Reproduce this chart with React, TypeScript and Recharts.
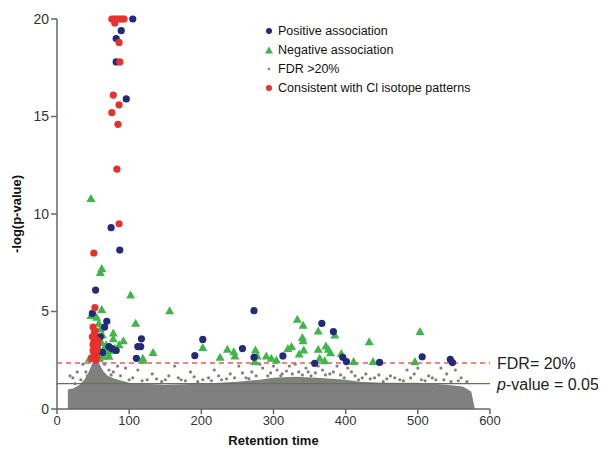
import React from 'react';
import {
  Area,
  ComposedChart,
  ReferenceLine,
  Scatter,
  XAxis,
  YAxis,
} from 'recharts';

// upper edge of the dense grey cloud (FDR > 20%)
const cloudEdge = [
  { x: 15, top: 0 },
  { x: 15, top: 1.0 },
  { x: 22, top: 1.05 },
  { x: 30, top: 1.2 },
  { x: 38, top: 1.5 },
  { x: 44, top: 1.9 },
  { x: 49, top: 2.35 },
  { x: 54, top: 2.5 },
  { x: 59, top: 2.3 },
  { x: 64, top: 1.95 },
  { x: 70, top: 1.7 },
  { x: 80, top: 1.55 },
  { x: 90, top: 1.45 },
  { x: 100, top: 1.35 },
  { x: 120, top: 1.3 },
  { x: 150, top: 1.25 },
  { x: 200, top: 1.3 },
  { x: 250, top: 1.4 },
  { x: 280, top: 1.5 },
  { x: 300, top: 1.6 },
  { x: 330, top: 1.65 },
  { x: 360, top: 1.6 },
  { x: 400, top: 1.5 },
  { x: 420, top: 1.4 },
  { x: 450, top: 1.35 },
  { x: 500, top: 1.35 },
  { x: 540, top: 1.25 },
  { x: 562, top: 1.15 },
  { x: 574, top: 0.9 },
  { x: 579, top: 0 },
];

// scattered grey points above the dense cloud
const fdrPoints = [
  [18, 1.7], [22, 1.6], [28, 1.9], [33, 1.5], [36, 2.3], [42, 1.7], [45, 2.4],
  [66, 2.3], [72, 2.0], [78, 1.9], [88, 1.7], [95, 2.1], [105, 1.6], [112, 2.0],
  [125, 1.5], [132, 1.8], [145, 1.4], [155, 1.7], [163, 2.2], [172, 1.5],
  [185, 1.9], [195, 1.4], [210, 1.6], [218, 2.0], [228, 1.5], [240, 1.8],
  [252, 2.2], [262, 1.6], [270, 1.9], [285, 2.1], [292, 1.7], [305, 2.0],
  [312, 1.8], [322, 2.2], [335, 1.9], [345, 2.1], [352, 1.7], [368, 2.0],
  [378, 1.8], [388, 2.2], [398, 1.6], [408, 1.9], [418, 1.5], [428, 1.8],
  [440, 1.6], [452, 1.4], [462, 1.7], [475, 1.5], [485, 2.0], [495, 1.8],
  [505, 1.5], [515, 1.7], [525, 1.5], [532, 2.1], [540, 1.8], [552, 2.0],
  [560, 1.6], [568, 1.4],
  [25, 1.3], [40, 1.9], [62, 2.5], [75, 1.75], [84, 2.2], [100, 1.5], [118, 1.45],
  [138, 1.55], [150, 1.5], [168, 1.6], [178, 1.45], [190, 1.65], [202, 1.5],
  [214, 1.45], [224, 1.7], [235, 1.55], [246, 1.6], [257, 1.85], [266, 1.55],
  [276, 1.7], [281, 2.3], [296, 1.85], [300, 2.2], [310, 1.7], [318, 1.95],
  [326, 1.8], [330, 2.3], [340, 1.75], [348, 1.9], [358, 1.85], [362, 2.2],
  [372, 1.75], [383, 1.9], [393, 1.75], [403, 2.1], [413, 1.7], [423, 1.6],
  [434, 1.55], [446, 1.75], [457, 1.55], [468, 1.6], [480, 1.45], [490, 1.6],
  [500, 2.1], [510, 1.45], [520, 1.6], [536, 1.5], [546, 1.4], [556, 1.45],
].map(([x, y]) => ({ x, y }));

const positive = [
  [105, 20], [89, 19.4], [82, 19.0], [82, 17.8], [96, 15.9], [75, 9.3], [87, 8.15],
  [53.5, 6.1], [49, 4.9], [69, 4.5], [66, 4.2], [60, 3.7], [117, 3.6], [72, 3.2],
  [76, 3.1], [82, 3.0], [63, 2.9], [112, 3.2], [110, 2.6], [116, 3.2],
  [202, 3.57], [191, 2.74], [273, 5.04], [257, 3.1], [273, 2.65], [313, 2.72],
  [367, 4.39], [383, 3.97], [357, 2.34], [396, 2.65], [401, 2.43], [447, 2.39],
  [506, 2.68], [545, 2.55], [548, 2.38],
].map(([x, y]) => ({ x, y }));

const negative = [
  [47, 10.8], [62, 7.2], [60, 7.0], [102, 5.85], [62, 5.1], [109, 4.4], [47, 4.8],
  [55, 4.7], [58, 4.4], [60, 4.1], [63, 3.8], [62, 3.4], [66, 3.1], [60, 3.0],
  [64, 2.7], [70, 2.9], [68, 3.3], [75, 3.0], [72, 2.7], [58, 2.6], [80, 3.1],
  [86, 3.3], [78, 3.6], [78, 3.9], [92, 3.5], [45, 2.6], [133, 2.9], [119, 2.6],
  [119, 2.5], [156, 5.04], [202, 3.15], [226, 2.65], [236, 3.06], [245, 2.94],
  [246.5, 2.72], [275, 3.03], [277.5, 2.72], [274, 2.43], [290, 2.72], [297, 2.6],
  [304, 2.51], [320, 3.1], [333, 4.6], [341, 4.3], [362, 4.0], [385, 3.79],
  [340, 3.67], [341, 3.5], [325, 3.2], [342, 3.03], [335.6, 2.82], [362, 3.06],
  [372.6, 3.23], [375.8, 3.06], [379, 2.89], [394, 2.85], [364, 2.6], [371, 2.48],
  [411, 2.43], [432.6, 3.45], [438, 2.43], [503, 3.97], [496, 2.43],
].map(([x, y]) => ({ x, y }));

const chlorine = [
  [76, 20], [79, 20], [82, 20], [85, 20], [88, 20], [91, 20], [93, 20], [80, 19.8],
  [86, 18.8], [87, 17.8], [78, 16.1], [86, 15.6], [76, 15.2], [84.5, 14.6],
  [83, 12.3], [86, 9.5], [51, 8.0], [52.6, 5.2], [50, 4.2], [52, 3.9], [53, 3.6],
  [51, 3.4], [54, 3.2], [50, 3.0], [52, 2.8], [55, 2.7], [48, 2.6], [56, 3.3],
  [53, 4.0], [49, 3.7], [55, 3.0], [51, 2.9], [57, 3.5], [53, 2.6], [50, 3.3],
  [54, 2.5],
].map(([x, y]) => ({ x, y }));

const xTicks = [0, 100, 200, 300, 400, 500, 600];
const yTicks = [0, 5, 10, 15, 20];
const fdrThreshold = 2.36;
const pThreshold = 1.3;

const BLUE = '#232a78';
const GREEN = '#3fb64a';
const RED = '#e8302c';
const GREY = '#808080';
const font = 'Arial, "Liberation Sans", sans-serif';

const dot = (color: string, r: number) => (p: any) => (
  <circle cx={p.cx} cy={p.cy} r={r} fill={color} />
);

const tri = (p: any) => (
  <polygon
    points={`${p.cx},${p.cy - 4.5} ${p.cx + 4.5},${p.cy + 3.5} ${p.cx - 4.5},${p.cy + 3.5}`}
    fill={GREEN}
  />
);

const legendRows = [
  { label: 'Positive association', kind: 'blue' },
  { label: 'Negative association', kind: 'tri' },
  { label: 'FDR >20%', kind: 'grey' },
  { label: 'Consistent with Cl isotope patterns', kind: 'red' },
];

function LegendMark({ kind }: { kind: string }) {
  return (
    <svg width={10} height={10} style={{ marginRight: 4 }}>
      {kind === 'blue' && <circle cx={5} cy={5} r={3} fill={BLUE} />}
      {kind === 'red' && <circle cx={5} cy={5} r={3} fill={RED} />}
      {kind === 'grey' && <circle cx={5} cy={5} r={1.3} fill={GREY} />}
      {kind === 'tri' && <polygon points="5,1.5 9,8.5 1,8.5" fill={GREEN} />}
    </svg>
  );
}

export default function App() {
  return (
    <div style={{ position: 'relative', width: 590, height: 440, fontFamily: font }}>
      <ComposedChart
        width={590}
        height={440}
        data={cloudEdge}
        margin={{ top: 11, right: 108, bottom: 9, left: 0 }}
      >
        <XAxis
          type="number"
          dataKey="x"
          domain={[0, 600]}
          ticks={xTicks}
          height={30}
          stroke="#666"
          strokeWidth={1.5}
          tickSize={5}
          tick={{ fontSize: 13, fill: '#333', fontFamily: font }}
          label={{
            value: 'Retention time',
            position: 'insideBottom',
            offset: -6,
            fontSize: 13,
            fontWeight: 'bold',
            fill: '#111',
            fontFamily: font,
          }}
        />
        <YAxis
          type="number"
          domain={[0, 20]}
          ticks={yTicks}
          width={49}
          stroke="#666"
          strokeWidth={1.5}
          tickSize={6}
          tick={{ fontSize: 14, fill: '#333', fontFamily: font }}
          label={{
            value: '-log(p-value)',
            angle: -90,
            position: 'insideLeft',
            offset: 8,
            style: { textAnchor: 'middle' },
            fontSize: 13,
            fontWeight: 'bold',
            fill: '#111',
            fontFamily: font,
          }}
        />
        <Area
          type="linear"
          dataKey="top"
          fill={GREY}
          fillOpacity={1}
          stroke="none"
          isAnimationActive={false}
        />
        <ReferenceLine
          y={pThreshold}
          stroke="#5d7b3c"
          strokeWidth={1.2}
          label={(props: any) => (
            <text
              x={props.viewBox.x + props.viewBox.width + 7}
              y={props.viewBox.y + 6}
              fontSize={16}
              fill="#222"
              fontFamily={font}
            >
              <tspan fontStyle="italic">p</tspan>-value = 0.05
            </text>
          )}
        />
        <ReferenceLine
          y={fdrThreshold}
          stroke="#ef5a50"
          strokeWidth={1.5}
          strokeDasharray="5 4"
          label={(props: any) => (
            <text
              x={props.viewBox.x + props.viewBox.width + 7}
              y={props.viewBox.y + 6}
              fontSize={16}
              fill="#222"
              fontFamily={font}
            >
              FDR= 20%
            </text>
          )}
        />
        <Scatter data={fdrPoints} dataKey="y" shape={dot(GREY, 1.6)} isAnimationActive={false} />
        <Scatter data={negative} dataKey="y" shape={tri} isAnimationActive={false} />
        <Scatter data={positive} dataKey="y" shape={dot(BLUE, 3.6)} isAnimationActive={false} />
        <Scatter data={chlorine} dataKey="y" shape={dot(RED, 3.6)} isAnimationActive={false} />
      </ComposedChart>
      <div style={{ position: 'absolute', left: 256, top: 13, fontSize: 12.5, color: '#111' }}>
        {legendRows.map((r) => (
          <div key={r.label} style={{ display: 'flex', alignItems: 'center', height: 19 }}>
            <LegendMark kind={r.kind} />
            {r.label}
          </div>
        ))}
      </div>
    </div>
  );
}
